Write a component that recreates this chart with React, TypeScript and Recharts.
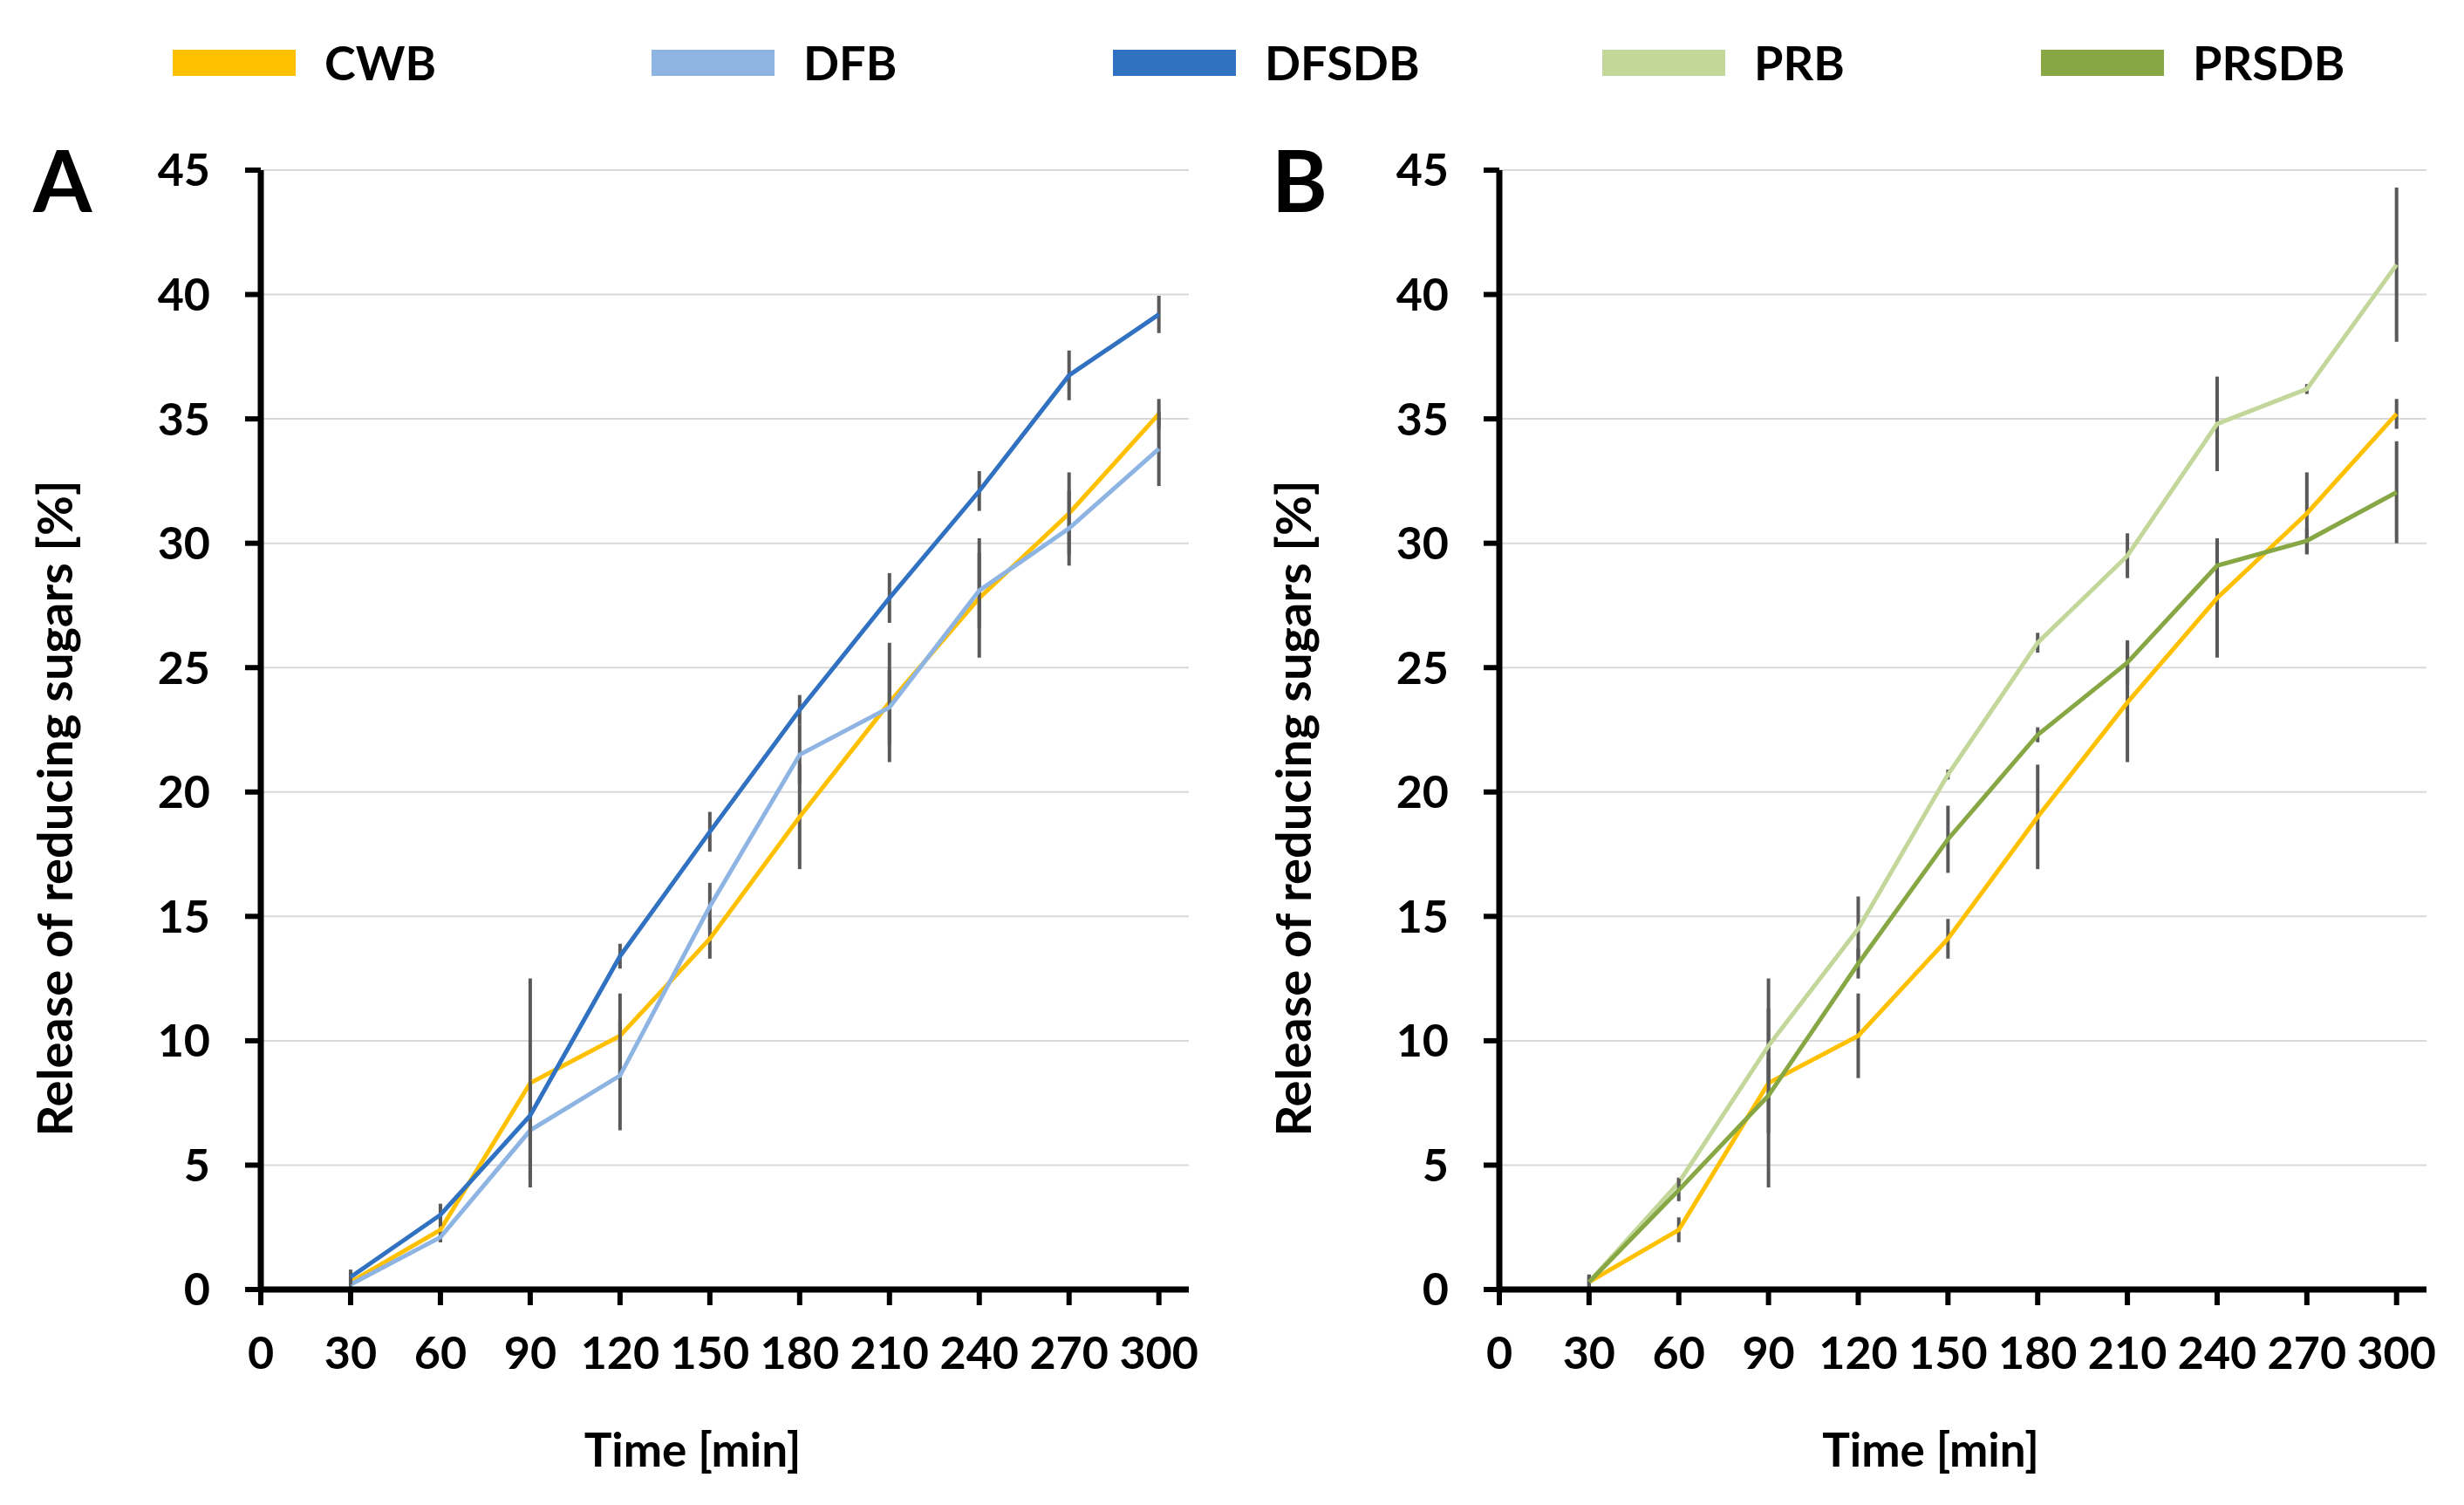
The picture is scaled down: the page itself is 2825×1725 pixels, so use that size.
import React from 'react';
import { LineChart, Line, XAxis, YAxis, CartesianGrid, ErrorBar, Label } from 'recharts';

// sampling times [min]
const TIMES = [30, 60, 90, 120, 150, 180, 210, 240, 270, 300];
const X_TICKS = [0, 30, 60, 90, 120, 150, 180, 210, 240, 270, 300];
const Y_TICKS = [0, 5, 10, 15, 20, 25, 30, 35, 40, 45];

// release of reducing sugars [%] and their deviations
const CWB = [0.3, 2.4, 8.3, 10.2, 14.1, 19.0, 23.6, 27.8, 31.2, 35.2];
const CWB_ERR = [0.2, 0.5, 4.2, 1.7, 0.8, 2.1, 2.4, 2.4, 1.65, 0.6];
const DFB = [0.2, 2.1, 6.4, 8.6, 15.4, 21.5, 23.4, 28.1, 30.6, 33.8];
const DFB_ERR = [0.2, 0.2, 2.0, 2.2, 0.95, 1.2, 1.5, 1.5, 1.5, 1.5];
const DFSDB = [0.5, 3.0, 7.0, 13.4, 18.4, 23.3, 27.8, 32.1, 36.75, 39.2];
const DFSDB_ERR = [0.3, 0.45, 1.0, 0.5, 0.8, 0.6, 1.0, 0.8, 1.0, 0.75];
const PRB = [0.3, 4.3, 9.8, 14.5, 20.7, 26.0, 29.5, 34.8, 36.2, 41.2];
const PRB_ERR = [0.3, 0.2, 1.5, 1.3, 0.2, 0.4, 0.9, 1.9, 0.2, 3.1];
const PRSDB = [0.3, 4.0, 7.8, 13.1, 18.1, 22.3, 25.2, 29.1, 30.1, 32.05];
const PRSDB_ERR = [0.3, 0.45, 1.5, 0.6, 1.35, 0.3, 0.9, 1.1, 0.5, 2.05];

const SERIES_NAMES = ['CWB', 'DFB', 'DFSDB', 'PRB', 'PRSDB'];
const PANEL_A = ['CWB', 'DFB', 'DFSDB'];
const PANEL_B = ['CWB', 'PRB', 'PRSDB'];

const COLORS: Record<string, string> = {
  CWB: '#FFC000',
  DFB: '#8EB4E3',
  DFSDB: '#3071C1',
  PRB: '#C4D79B',
  PRSDB: '#86A744',
};

const VALUES: Record<string, number[]> = { CWB, DFB, DFSDB, PRB, PRSDB };
const ERRORS: Record<string, number[]> = {
  CWB: CWB_ERR, DFB: DFB_ERR, DFSDB: DFSDB_ERR, PRB: PRB_ERR, PRSDB: PRSDB_ERR,
};

const rows = TIMES.map((t, i) => {
  const row: Record<string, number> = { time: t };
  SERIES_NAMES.forEach((name) => {
    row[name] = VALUES[name][i];
    row[`${name}_err`] = ERRORS[name][i];
  });
  return row;
});

const FONT = 'Lato, "Open Sans", sans-serif';
const LEGEND_X = [198, 747, 1276, 1837, 2340];

const YTitle = (props: any) => {
  const vb = props.viewBox || {};
  const right = vb.x != null && vb.width != null ? vb.x + vb.width : props.axisRight;
  const top = vb.y != null ? vb.y : 195;
  const h = vb.height != null ? vb.height : 1283;
  const cx = right - 238;
  const cy = top + h / 2 + 90;
  return (
    <text x={cx} y={cy} transform={`rotate(-90 ${cx} ${cy})`} textAnchor="middle" dominantBaseline="central"
      fontFamily={FONT} fontWeight={700} fontSize={56} fill="#000">
      Release of reducing sugars [%]
    </text>
  );
};

const XTitle = (props: any) => {
  const vb = props.viewBox || {};
  const x = vb.x != null ? vb.x + vb.width / 2 - 37 : props.centerX;
  const y = (vb.y != null ? vb.y : 1478) + 203;
  return (
    <text x={x} y={y} textAnchor="middle" fontFamily={FONT} fontWeight={700} fontSize={53} fill="#000">
      Time [min]
    </text>
  );
};

interface PanelProps {
  keys: string[];
  letter: string;
  left: number;
  width: number;
  axisWidth: number;
  right: number;
}

function Panel({ keys, letter, left, width, axisWidth, right }: PanelProps) {
  const tickStyle = { fontSize: 52, fontWeight: 700, fill: '#000', fontFamily: FONT };
  return (
    <div style={{ position: 'absolute', left, top: 0, width, height: 1725 }}>
      <div style={{ position: 'absolute', left: axisWidth - 261, top: 157, fontFamily: FONT, fontWeight: 700, fontSize: 97, lineHeight: 1 }}>
        {letter}
      </div>
      <LineChart width={width} height={1725} data={rows} margin={{ top: 195, right, left: 0, bottom: 67 }}>
        <CartesianGrid vertical={false} stroke="#D9D9D9" strokeWidth={2} />
        <XAxis
          dataKey="time"
          type="number"
          domain={[0, 310]}
          ticks={X_TICKS}
          interval={0}
          height={180}
          tick={tickStyle}
          tickSize={18}
          tickMargin={36}
          axisLine={{ stroke: '#000', strokeWidth: 7 }}
          tickLine={{ stroke: '#000', strokeWidth: 6 }}
        >
          <Label content={(p: any) => <XTitle {...p} centerX={axisWidth + (width - axisWidth - right) / 2 - 37} />} />
        </XAxis>
        <YAxis
          type="number"
          domain={[0, 45]}
          ticks={Y_TICKS}
          interval={0}
          width={axisWidth}
          tick={tickStyle}
          tickSize={18}
          tickMargin={40}
          axisLine={{ stroke: '#000', strokeWidth: 7 }}
          tickLine={{ stroke: '#000', strokeWidth: 6 }}
        >
          <Label content={(p: any) => <YTitle {...p} axisRight={axisWidth} />} />
        </YAxis>
        {keys.map((k) => (
          <Line
            key={k}
            type="linear"
            dataKey={k}
            name={k}
            stroke={COLORS[k]}
            strokeWidth={5}
            dot={false}
            activeDot={false}
            isAnimationActive={false}
          >
            <ErrorBar dataKey={`${k}_err`} direction="y" width={0} stroke="#595959" strokeWidth={4} isAnimationActive={false} />
          </Line>
        ))}
      </LineChart>
    </div>
  );
}

export default function App() {
  return (
    <div style={{ position: 'absolute', left: 0, top: 0, width: 2825, height: 1725, background: '#fff', overflow: 'hidden' }}>
      {SERIES_NAMES.map((name, i) => (
        <div key={name} style={{ position: 'absolute', left: LEGEND_X[i], top: 45, height: 54, display: 'flex', alignItems: 'center' }}>
          <div style={{ width: 141, height: 30, background: COLORS[name], marginRight: 33 }} />
          <span style={{ fontFamily: FONT, fontWeight: 700, fontSize: 54, lineHeight: 1, color: '#000' }}>{name}</span>
        </div>
      ))}
      <Panel keys={PANEL_A} letter="A" left={0} width={1412} axisWidth={299} right={49} />
      <Panel keys={PANEL_B} letter="B" left={1412} width={1413} axisWidth={307} right={43} />
    </div>
  );
}
